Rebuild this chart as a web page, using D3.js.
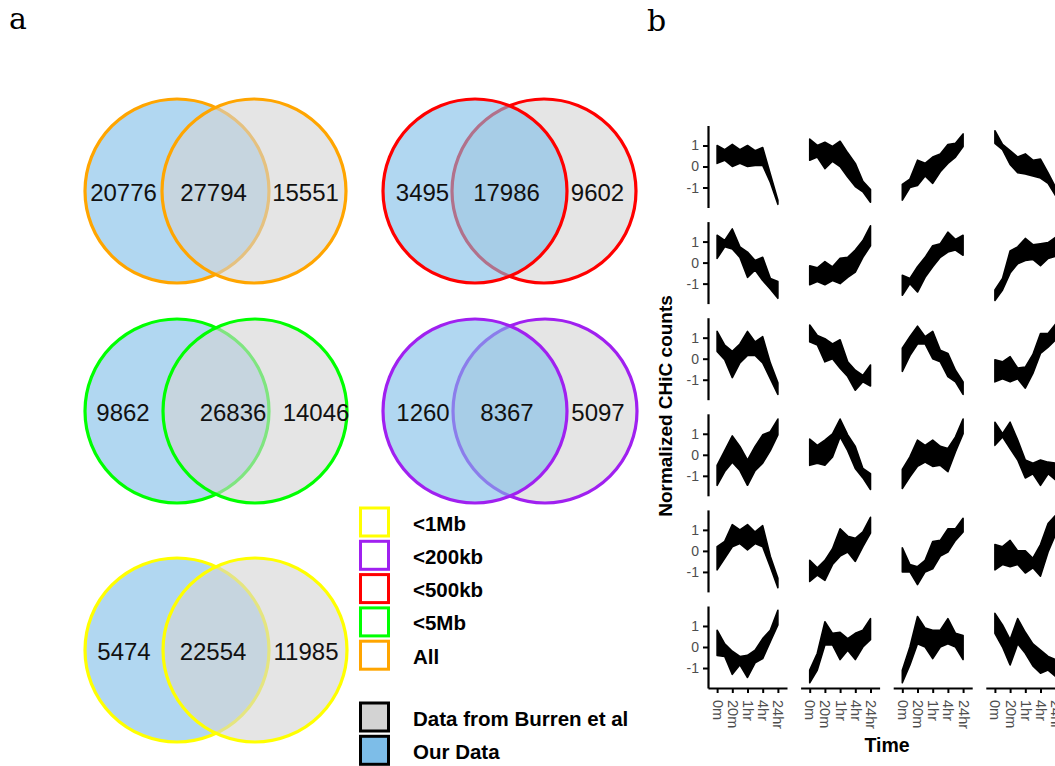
<!DOCTYPE html>
<html>
<head>
<meta charset="utf-8">
<script src="https://cdn.jsdelivr.net/npm/d3@7"></script>
<style>
  html, body { margin: 0; padding: 0; background: #fff; }
  svg { display: block; }
</style>
</head>
<body>
<svg id="fig" width="1055" height="766"></svg>
<script>
// ---------- Panel a: overlap of interactions, our data vs Burren et al ----------
const vennSets   = ["All", "<500kb", "<5Mb", "<200kb", "<1Mb"];
const ourOnly    = [20776, 3495, 9862, 1260, 5474];
const shared     = [27794, 17986, 26836, 8367, 22554];
const burrenOnly = [15551, 9602, 14046, 5097, 11985];

const legendSets   = ["<1Mb", "<200kb", "<500kb", "<5Mb", "All"];
const sourceLabels = ["Data from Burren et al", "Our Data"];

// ---------- Panel b: cluster profiles over time (ribbon bounds) ----------
const timeLabels = ["0m", "20m", "1hr", "4hr", "24hr"];
const tickSteps  = [0, 2, 4, 6, 8];
const timeSteps  = [0, 1, 2, 3, 4, 5, 6, 7, 8];
const yTicks     = [-1, 0, 1];

// row-major: 6 rows x 4 columns
const clusterUpper = [
  [1.0, 0.8, 1.05, 0.8, 1.0, 0.75, 0.9, -0.35, -1.6],
  [1.3, 1.0, 1.15, 0.95, 1.2, 0.65, 0.15, -0.7, -1.1],
  [-0.85, -0.6, 0.3, 0.15, 0.45, 0.6, 1.05, 1.1, 1.55],
  [1.7, 1.05, 0.75, 0.45, 0.6, 0.3, 0.35, -0.3, -1.0],

  [1.3, 1.05, 1.6, 0.75, 0.5, 0.1, 0.25, -0.75, -0.9],
  [-0.15, -0.25, 0.05, -0.2, 0.2, 0.25, 0.6, 1.05, 1.75],
  [-0.6, -0.75, -0.2, 0.25, 0.8, 0.9, 1.45, 1.1, 1.3],
  [-1.3, -0.75, 0.55, 0.75, 1.15, 0.85, 0.9, 0.95, 1.2],

  [1.3, 0.65, 0.35, 0.7, 1.3, 0.8, 1.05, -0.2, -1.15],
  [1.6, 1.1, 0.95, 0.7, 0.9, -0.15, -0.55, -0.8, -0.3],
  [0.5, 1.05, 1.55, 1.05, 1.3, 0.4, 0.25, -0.55, -1.1],
  [-0.05, -0.15, 0.1, -0.45, -0.4, 0.2, 1.2, 1.2, 1.65],

  [-0.5, 0.2, 0.9, 0.4, -0.25, 0.4, 0.95, 1.1, 1.7],
  [0.75, 0.45, 0.7, 1.0, 1.7, 0.95, 0.4, -0.65, -0.9],
  [-0.7, -0.1, 0.7, 0.45, 0.7, 0.4, 0.3, 0.85, 1.7],
  [1.55, 1.0, 1.55, 0.7, -0.25, -0.4, -0.25, -0.35, -0.4],

  [0.2, 0.45, 1.25, 1.0, 1.25, 0.9, 1.2, -0.25, -1.3],
  [-0.45, -0.8, -0.45, 0.1, 1.05, 0.7, 0.6, 0.9, 1.6],
  [0.15, -0.65, -0.75, -0.45, 0.45, 0.5, 1.05, 1.05, 1.55],
  [0.3, 0.2, 0.5, 0.0, 0.0, -0.35, 0.3, 1.3, 1.7],

  [0.8, 0.15, -0.2, -0.45, -0.4, -0.15, 0.4, 0.8, 1.75],
  [-1.1, -0.3, 1.2, 0.65, 0.7, 0.4, 0.65, 0.8, 1.35],
  [-1.1, 0.0, 1.45, 0.9, 0.8, 0.8, 1.35, 0.65, 0.55],
  [1.6, 1.05, 0.35, 1.35, 0.7, 0.15, -0.15, -0.45, -0.6]
];
const clusterLower = [
  [0.15, 0.3, 0.0, 0.15, 0.0, 0.05, 0.05, -0.75, -1.8],
  [0.3, 0.45, -0.1, 0.25, 0.0, -0.5, -0.95, -1.2, -1.7],
  [-1.6, -1.0, -0.9, -0.45, -0.8, -0.25, 0.15, 0.45, 0.95],
  [1.1, 0.8, 0.1, -0.3, -0.35, -0.45, -0.55, -0.8, -1.4],

  [0.2, 0.75, 0.65, 0.25, -0.7, -0.35, -0.85, -1.25, -1.7],
  [-1.05, -0.9, -1.05, -0.85, -1.0, -0.7, -0.45, 0.25, 0.8],
  [-1.55, -1.0, -1.4, -0.7, -0.2, 0.25, 0.5, 0.6, 0.35],
  [-1.8, -1.3, -0.5, -0.05, 0.1, 0.15, -0.15, 0.2, 0.3],

  [0.35, -0.05, -0.9, -0.2, 0.15, 0.15, -0.2, -0.95, -1.7],
  [0.8, 0.65, -0.15, 0.0, -0.45, -0.85, -1.5, -1.1, -1.3],
  [-0.6, 0.15, 0.7, 0.7, 0.0, -0.15, -0.85, -1.1, -1.7],
  [-1.1, -0.95, -1.1, -0.95, -1.4, -0.7, 0.25, 0.55, 0.9],

  [-1.45, -0.8, -0.35, -0.75, -1.45, -0.75, -0.4, 0.2, 0.95],
  [-0.5, -0.4, -0.5, -0.1, 0.85, 0.2, -0.65, -1.1, -1.65],
  [-1.6, -1.05, -0.55, -0.35, -0.55, -0.5, -0.8, 0.15, 1.0],
  [0.45, 0.85, 0.3, -0.25, -1.1, -0.9, -1.45, -0.9, -1.2],

  [-0.9, -0.35, 0.2, 0.35, 0.05, 0.35, 0.2, -0.75, -1.75],
  [-1.45, -1.15, -1.4, -0.65, -0.25, -0.05, -0.5, 0.2, 0.85],
  [-1.0, -1.0, -1.6, -1.0, -0.85, -0.25, -0.05, 0.5, 0.9],
  [-0.9, -0.65, -0.75, -0.65, -1.05, -0.8, -1.2, -0.05, 0.8],

  [-0.4, -0.45, -1.3, -0.85, -1.45, -0.75, -0.55, 0.25, 1.05],
  [-1.7, -1.1, 0.1, 0.1, -0.6, -0.15, -0.6, 0.0, 0.35],
  [-1.7, -0.85, 0.15, 0.0, -0.55, 0.0, 0.15, 0.0, -0.6],
  [0.65, 0.0, -0.85, 0.15, -0.3, -0.9, -1.25, -1.1, -1.4]
];

// ---------- styling / layout ----------
const setColor = {
  "All": "#FFA500", "<500kb": "#FF0000", "<5Mb": "#00FF00",
  "<200kb": "#A020F0", "<1Mb": "#FFFF00"
};
const ourFill = "#7dbde8";
const burrenFill = "#d3d3d3";
const SANS = "'Liberation Sans', Arial, Helvetica, sans-serif";
const SERIF = "'DejaVu Serif', 'Liberation Serif', serif";

// left-circle centre, vertical centre, centre separation, draw order, label nudges
const vennLayout = [
  { cx: 177, cy: 191, sep: 77, ourOnTop: false, nudge: [0, -2, -2] },
  { cx: 475, cy: 191, sep: 69, ourOnTop: true,  nudge: [5, -3, -4] },
  { cx: 177, cy: 411, sep: 78, ourOnTop: false, nudge: [-1, 17, 8] },
  { cx: 475, cy: 411, sep: 70, ourOnTop: true,  nudge: [5, -3, -4] },
  { cx: 177, cy: 650, sep: 78, ourOnTop: false, nudge: [0, -3, -2] }
];
const R = 92;

const svg = d3.select("#fig");

// panel letters
svg.append("text").attr("x", 9).attr("y", 29)
  .attr("font-family", SERIF).attr("font-size", 30).text("a");
svg.append("text").attr("x", 647).attr("y", 31)
  .attr("font-family", SERIF).attr("font-size", 30).text("b");

// ---------- Venn diagrams ----------
vennSets.forEach((name, k) => {
  const L = vennLayout[k];
  const g = svg.append("g");
  const circles = [
    { cx: L.cx, fill: ourFill },
    { cx: L.cx + L.sep, fill: burrenFill }
  ];
  const order = L.ourOnTop ? [circles[1], circles[0]] : circles;
  order.forEach(c => {
    g.append("circle")
      .attr("cx", c.cx).attr("cy", L.cy).attr("r", R)
      .attr("fill", c.fill).attr("fill-opacity", 0.6);
    g.append("circle")
      .attr("cx", c.cx).attr("cy", L.cy).attr("r", R)
      .attr("fill", "none").attr("stroke", setColor[name]).attr("stroke-width", 3.2);
  });
  const vals = [ourOnly[k], shared[k], burrenOnly[k]];
  const xs = [
    L.cx - R + L.sep / 2 + L.nudge[0],
    L.cx + L.sep / 2 + L.nudge[1],
    L.cx + R + L.sep / 2 + L.nudge[2]
  ];
  vals.forEach((v, i) => {
    g.append("text")
      .attr("x", xs[i]).attr("y", L.cy + 1)
      .attr("text-anchor", "middle").attr("dominant-baseline", "central")
      .attr("font-family", SANS).attr("font-size", 24).attr("fill", "#111")
      .text(v);
  });
});

// ---------- legend ----------
const leg = svg.append("g");
const legY0 = 522, legStep = 33.3;
const legFont = 20.5;
legendSets.forEach((name, i) => {
  const cy = legY0 + i * legStep;
  leg.append("rect").attr("x", 360.5).attr("y", cy - 14).attr("width", 28).attr("height", 28)
    .attr("fill", "#fff").attr("stroke", setColor[name]).attr("stroke-width", 3);
  leg.append("text").attr("x", 413).attr("y", cy + 1)
    .attr("dominant-baseline", "central")
    .attr("font-family", SANS).attr("font-weight", "bold").attr("font-size", legFont)
    .text(name);
});
[burrenFill, ourFill].forEach((f, i) => {
  const cy = 717 + i * legStep;
  leg.append("rect").attr("x", 360.5).attr("y", cy - 14).attr("width", 28).attr("height", 28)
    .attr("fill", f).attr("stroke", "#000").attr("stroke-width", 3);
  leg.append("text").attr("x", 413).attr("y", cy + 1)
    .attr("dominant-baseline", "central")
    .attr("font-family", SANS).attr("font-weight", "bold").attr("font-size", legFont)
    .text(sourceLabels[i]);
});

// ---------- Panel b: faceted ribbons ----------
const nCols = 4, nRows = 6;
const facetLeft = 708, facetPitchX = 92.6, facetW = 79;
const facetTop = 125.5, facetPitchY = 96.1, facetH = 82;

const x = d3.scaleLinear().domain([-1.2, 9.2]).range([0, facetW]);
const y = d3.scaleLinear().domain([-1.95, 1.95]).range([facetH, 0]);

const area = d3.area()
  .x((d, i) => x(timeSteps[i]))
  .y0(d => y(d[0]))
  .y1(d => y(d[1]));

const AXIS_COL = "#000";
function styleAxis(sel) {
  sel.select(".domain").attr("stroke", AXIS_COL).attr("stroke-width", 2.2);
  sel.selectAll(".tick line").attr("stroke", AXIS_COL).attr("stroke-width", 2);
  sel.selectAll(".tick text").attr("fill", "#4d4d4d")
    .attr("font-family", SANS).attr("font-size", 14);
}

for (let r = 0; r < nRows; r++) {
  for (let c = 0; c < nCols; c++) {
    const idx = r * nCols + c;
    const gx = facetLeft + c * facetPitchX;
    const gy = facetTop + r * facetPitchY;
    const g = svg.append("g").attr("transform", `translate(${gx},${gy})`);
    const pts = clusterUpper[idx].map((u, i) => [clusterLower[idx][i], u]);
    g.append("path").attr("d", area(pts))
      .attr("fill", "#000").attr("stroke", "#000")
      .attr("stroke-width", 1.6).attr("stroke-linejoin", "round");

    if (c === 0) {
      const ay = g.append("g")
        .call(d3.axisLeft(y).tickValues(yTicks).tickSize(5).tickSizeOuter(0)
          .tickPadding(4).tickFormat(d => String(d)));
      styleAxis(ay);
    }
    if (r === nRows - 1) {
      const ax = g.append("g").attr("transform", `translate(0,${facetH})`)
        .call(d3.axisBottom(x).tickValues(tickSteps).tickSize(5).tickSizeOuter(0)
          .tickFormat((d, i) => timeLabels[i]));
      styleAxis(ax);
      ax.selectAll(".tick text")
        .attr("y", 0).attr("dy", "0.35em").attr("x", 12)
        .attr("transform", "rotate(90)").attr("text-anchor", "start")
        .attr("font-size", 14.5);
    }
  }
}

// axis titles
svg.append("text")
  .attr("transform", "translate(672,406) rotate(-90)")
  .attr("text-anchor", "middle")
  .attr("font-family", SANS).attr("font-weight", "bold").attr("font-size", 19)
  .text("Normalized CHiC counts");
svg.append("text")
  .attr("x", 887).attr("y", 752)
  .attr("text-anchor", "middle")
  .attr("font-family", SANS).attr("font-weight", "bold").attr("font-size", 19.5)
  .text("Time");
</script>
</body>
</html>
